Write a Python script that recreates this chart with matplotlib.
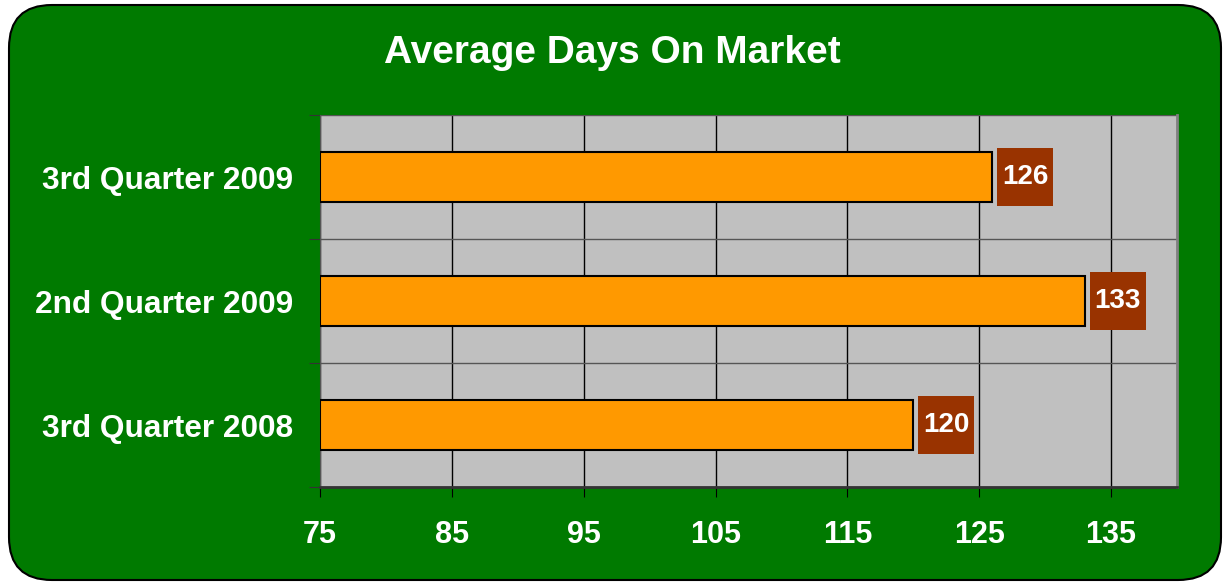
import matplotlib
matplotlib.use("Agg")
import matplotlib.pyplot as plt
from matplotlib.patches import FancyBboxPatch, Rectangle

categories = ["3rd Quarter 2008", "2nd Quarter 2009", "3rd Quarter 2009"]
days = [120, 133, 126]
xticks = [75, 85, 95, 105, 115, 125, 135]
xmin, xmax = 75, 140

plt.rcParams["font.family"] = ["Liberation Sans", "DejaVu Sans"]

fig = plt.figure(figsize=(12.25, 5.84), dpi=100)
fig.patch.set_facecolor("white")

# rounded green background, kept behind the axes
bg = FancyBboxPatch((9 / 1225, 4 / 584), 1212 / 1225, 575 / 584,
                    boxstyle="round,pad=0,rounding_size=0.035",
                    transform=fig.transFigure, facecolor="#007A00",
                    edgecolor="black", linewidth=1.5, mutation_aspect=1225 / 584,
                    zorder=-5)
fig.patches.append(bg)

ax = fig.add_axes([320 / 1225, 97 / 584, 857 / 1225, 372 / 584])
ax.set_zorder(2)
ax.set_facecolor("#C0C0C0")

y = list(range(len(categories)))
ax.barh(y, [d - xmin for d in days], left=xmin, height=0.4, color="#FF9900",
        edgecolor="black", linewidth=1.5, zorder=3)

ax.set_xlim(xmin, xmax)
ax.set_ylim(-0.5, 2.5)
ax.set_xticks(xticks)
ax.set_xticklabels([str(t) for t in xticks])
ax.set_yticks([i + 0.5 for i in range(-1, 3)], minor=False)
ax.set_yticklabels([])
ax.set_yticks(y, minor=True)
ax.set_yticklabels(categories, minor=True)

ax.tick_params(axis="y", which="minor", length=0, pad=19, labelsize=22.8,
               labelcolor="white")
ax.tick_params(axis="y", which="major", length=8, direction="out", color="#333333")
ax.tick_params(axis="x", length=7, direction="out", pad=17, labelsize=22,
               labelcolor="white", color="black")
for lbl in ax.get_xticklabels() + ax.get_yticklabels(minor=True):
    lbl.set_fontweight("bold")

ax.grid(axis="x", color="black", linewidth=1, zorder=1)
ax.grid(axis="y", which="major", color="#555555", linewidth=1, zorder=1)
ax.set_axisbelow(True)

ax.spines["top"].set_visible(False)
ax.spines["bottom"].set_color("#333333")
ax.spines["bottom"].set_linewidth(2)
ax.spines["left"].set_color("#555555")
ax.spines["right"].set_color("#808080")
ax.spines["right"].set_linewidth(2)

# value label boxes
units_per_px = (xmax - xmin) / 857
box_gap = 5 * units_per_px
box_w = 56 * units_per_px
box_h = 58 / 124
for yi, v in zip(y, days):
    ax.add_patch(Rectangle((v + box_gap, yi - box_h / 2), box_w, box_h,
                           facecolor="#993300", edgecolor="none", zorder=4))
    ax.text(v + box_gap + box_w / 2, yi, str(v), ha="center", va="center",
            color="white", fontsize=20, fontweight="bold", zorder=5)

fig.text(0.5, 0.91, "Average Days On Market", ha="center", va="center",
         color="white", fontsize=28, fontweight="bold")

fig.savefig("out.png", dpi=100, facecolor=fig.get_facecolor())
